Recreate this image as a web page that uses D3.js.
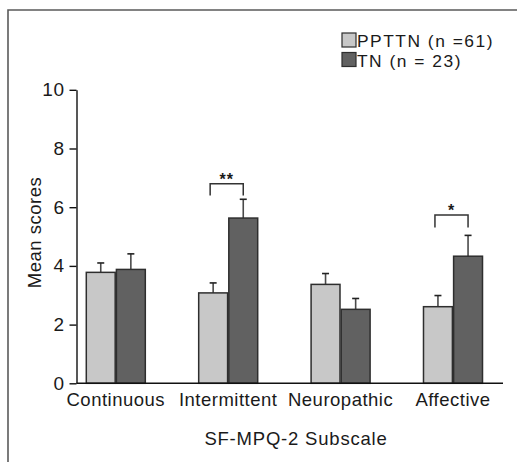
<!DOCTYPE html>
<html>
<head>
<meta charset="utf-8">
<script src="https://cdn.jsdelivr.net/npm/d3@7"></script>
<style>
  html, body { margin: 0; padding: 0; background: #fff; }
  svg { display: block; font-family: "Liberation Sans", Arial, Helvetica, sans-serif; }
  text { fill: #1a1a1a; }
</style>
</head>
<body>
<svg id="chart"></svg>
<script>
// ─── Data ─────────────────────────────────────────────────────────────────────
const subscales   = ["Continuous", "Intermittent", "Neuropathic", "Affective"];
const groups      = ["PPTTN (n =61)", "TN (n = 23)"];
const ppttnMeans  = [3.78, 3.08, 3.37, 2.61];
const ppttnErrors = [0.32, 0.34, 0.37, 0.38];
const tnMeans     = [3.88, 5.63, 2.52, 4.33];
const tnErrors    = [0.53, 0.64, 0.37, 0.71];
// significance brackets: subscale, bracket top value, leg bottom value, label
const sigMarks = [
  { subscale: "Intermittent", top: 6.80, low: 6.40, label: "**" },
  { subscale: "Affective",    top: 5.73, low: 5.31, label: "*" }
];
const yTicks = [0, 2, 4, 6, 8, 10];

// ─── Configuration ────────────────────────────────────────────────────────────
const W = 517, H = 462;
const plot = { left: 76.5, right: 503, top: 89.8, bottom: 383.3 };
const colors = {
  light: "#c8c8c8",
  dark: "#616161",
  barStroke: "#2e2e2e",
  error: "#4a4a4a",
  frame: "#5a5a5a"
};
const fontSize = 18.5;

const svg = d3.select("#chart").attr("width", W).attr("height", H);

// outer frame (cropped at the right and bottom)
svg.append("path")
  .attr("d", `M8,${H + 5} L8,10 L${W + 5},10`)
  .attr("fill", "none")
  .attr("stroke", colors.frame)
  .attr("stroke-width", 1.6);

// ─── Scales ───────────────────────────────────────────────────────────────────
const y = d3.scaleLinear().domain([0, 10]).range([plot.bottom, plot.top]);

const x0 = d3.scaleBand()
  .domain(subscales)
  .range([59.6, 509.2])
  .paddingInner(0.475)
  .paddingOuter(0.2375);

const x1 = d3.scaleBand()
  .domain(groups)
  .range([0, x0.bandwidth()])
  .paddingInner(0.04);

const rows = subscales.flatMap((s, i) => [
  { subscale: s, group: groups[0], mean: ppttnMeans[i], err: ppttnErrors[i], fill: colors.light },
  { subscale: s, group: groups[1], mean: tnMeans[i],    err: tnErrors[i],    fill: colors.dark }
]);

// ─── Error bars (drawn first so bars cover their lower ends) ─────────────────
const errG = svg.append("g").attr("stroke", colors.error).attr("stroke-width", 1.6);
const cx = d => x0(d.subscale) + x1(d.group) + x1.bandwidth() / 2;
errG.selectAll("line.stem").data(rows).join("line")
  .attr("class", "stem")
  .attr("x1", cx).attr("x2", cx)
  .attr("y1", d => y(d.mean)).attr("y2", d => y(d.mean + d.err));
errG.selectAll("line.cap").data(rows).join("line")
  .attr("class", "cap")
  .attr("stroke", "#222")
  .attr("x1", d => cx(d) - 3.5).attr("x2", d => cx(d) + 3.5)
  .attr("y1", d => y(d.mean + d.err)).attr("y2", d => y(d.mean + d.err));

// ─── Bars ─────────────────────────────────────────────────────────────────────
svg.append("g").selectAll("rect").data(rows).join("rect")
  .attr("x", d => x0(d.subscale) + x1(d.group))
  .attr("y", d => y(d.mean))
  .attr("width", x1.bandwidth())
  .attr("height", d => y(0) - y(d.mean))
  .attr("fill", d => d.fill)
  .attr("stroke", colors.barStroke)
  .attr("stroke-width", 1.5);

// ─── Significance brackets ────────────────────────────────────────────────────
const sigG = svg.append("g");
sigMarks.forEach(m => {
  const xa = x0(m.subscale) + x1(groups[0]) + x1.bandwidth() / 2 - 3;
  const xb = x0(m.subscale) + x1(groups[1]) + x1.bandwidth() / 2;
  sigG.append("path")
    .attr("d", `M${xa},${y(m.low)} V${y(m.top)} H${xb} V${y(m.low)}`)
    .attr("fill", "none")
    .attr("stroke", "#333")
    .attr("stroke-width", 1.5);
  sigG.append("text")
    .attr("x", (xa + xb) / 2)
    .attr("y", y(m.top) + 1)
    .attr("text-anchor", "middle")
    .attr("font-size", 16)
    .attr("font-weight", "bold")
    .style("letter-spacing", "1px")
    .text(m.label);
});

// ─── Axes ─────────────────────────────────────────────────────────────────────
const yAxis = svg.append("g")
  .attr("transform", `translate(${plot.left},0)`)
  .call(d3.axisLeft(y).tickValues(yTicks).tickSize(7).tickPadding(5).tickSizeOuter(0));
yAxis.select(".domain").attr("stroke", "#111").attr("stroke-width", 1.4);
yAxis.selectAll(".tick line").attr("stroke", "#111").attr("stroke-width", 1.4);
yAxis.selectAll(".tick text")
  .attr("font-size", 19)
  .attr("font-family", "Liberation Sans, Arial, sans-serif")
  .attr("fill", "#1a1a1a")
  .style("letter-spacing", "0.5px");

svg.append("line")
  .attr("x1", plot.left).attr("x2", plot.right)
  .attr("y1", y(0)).attr("y2", y(0))
  .attr("stroke", "#111").attr("stroke-width", 1.4);

svg.append("g").selectAll("text").data(subscales).join("text")
  .attr("x", d => x0(d) + x0.bandwidth() / 2)
  .attr("y", 406)
  .attr("text-anchor", "middle")
  .attr("font-size", fontSize)
  .style("letter-spacing", "0.5px")
  .text(d => d);

// axis titles
svg.append("text")
  .attr("x", 296).attr("y", 445)
  .attr("text-anchor", "middle")
  .attr("font-size", fontSize)
  .style("letter-spacing", "0.8px")
  .text("SF-MPQ-2 Subscale");

svg.append("text")
  .attr("transform", `translate(41,${232.5}) rotate(-90)`)
  .attr("text-anchor", "middle")
  .attr("font-size", fontSize)
  .style("letter-spacing", "0.5px")
  .text("Mean scores");

// ─── Legend ───────────────────────────────────────────────────────────────────
const legend = svg.append("g").attr("transform", "translate(342,33)");
const legendItems = legend.selectAll("g").data(groups).join("g")
  .attr("transform", (d, i) => `translate(0,${i * 19.5})`);
legendItems.append("rect")
  .attr("width", 14).attr("height", 14)
  .attr("fill", (d, i) => i === 0 ? colors.light : colors.dark)
  .attr("stroke", colors.barStroke)
  .attr("stroke-width", 1.2);
legendItems.append("text")
  .attr("x", 15).attr("y", 14)
  .attr("font-size", 17.4)
  .style("letter-spacing", "1.5px")
  .text(d => d);
</script>
</body>
</html>
